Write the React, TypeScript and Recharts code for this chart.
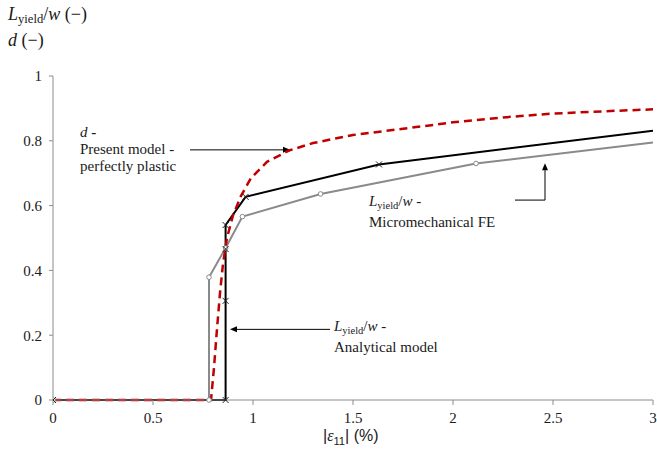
import React from "react";
import { LineChart, Line, XAxis, YAxis, ReferenceLine } from "recharts";

// strain |e11| (%) vs normalised yield length / damage
const analyticalX = [0, 0.863, 0.863, 0.863, 0.863, 0.963, 1.63, 3];
const analyticalY = [0, 0, 0.306, 0.466, 0.54, 0.627, 0.727, 0.831];

const feX = [0, 0.78, 0.78, 0.863, 0.947, 1.338, 2.115, 3];
const feY = [0, 0, 0.379, 0.469, 0.566, 0.636, 0.73, 0.795];

const dX = [0, 0.79, 0.805, 0.82, 0.835, 0.85, 0.87, 0.9, 0.94, 0.99, 1.07, 1.18, 1.3, 1.5, 1.75, 2.0, 2.25, 2.5, 2.75, 3];
const dY = [0, 0, 0.1, 0.22, 0.33, 0.42, 0.5, 0.57, 0.63, 0.685, 0.735, 0.77, 0.793, 0.818, 0.837, 0.857, 0.872, 0.884, 0.891, 0.897];

const xTicks = [0, 0.5, 1, 1.5, 2, 2.5, 3];
const yTicks = [0, 0.2, 0.4, 0.6, 0.8, 1];

const zip = (xs: number[], ys: number[]) => xs.map((x, i) => ({ x, y: ys[i] }));
const analytical = zip(analyticalX, analyticalY);
const fe = zip(feX, feY);
const damage = zip(dX, dY);

const C = {
  black: "#000000",
  grey: "#8a8a8a",
  red: "#c00000",
  axis: "#8c8c8c",
  text: "#1a1a1a",
};

const SERIF = "'Liberation Serif', 'Times New Roman', serif";
const TICK = { fontSize: 15, fill: C.text, fontFamily: SERIF };

function Cross(props: any) {
  const { cx, cy, payload } = props;
  if (cx == null || cy == null || payload.x >= 3) return null;
  const s = 3;
  return (
    <g stroke="#222" strokeWidth={1}>
      <line x1={cx - s} y1={cy - s} x2={cx + s} y2={cy + s} />
      <line x1={cx - s} y1={cy + s} x2={cx + s} y2={cy - s} />
    </g>
  );
}

function Ring(props: any) {
  const { cx, cy, payload } = props;
  if (cx == null || cy == null || payload.x >= 3) return null;
  return <circle cx={cx} cy={cy} r={2.3} fill="#fff" stroke={C.grey} strokeWidth={1} />;
}

function Arrow(props: any) {
  const { x1, y1, x2, y2, head } = props;
  if ([x1, y1, x2, y2].some((v) => v == null || Number.isNaN(v))) return null;
  const a = Math.atan2(y2 - y1, x2 - x1);
  const L = 7;
  const W = 3;
  const bx = x2 - L * Math.cos(a);
  const by = y2 - L * Math.sin(a);
  const px = -Math.sin(a) * W;
  const py = Math.cos(a) * W;
  return (
    <g>
      <line x1={x1} y1={y1} x2={head ? bx : x2} y2={head ? by : y2} stroke="#000" strokeWidth={1} />
      {head && <polygon points={`${x2},${y2} ${bx + px},${by + py} ${bx - px},${by - py}`} fill="#000" />}
    </g>
  );
}

const label: React.CSSProperties = {
  position: "absolute",
  fontFamily: SERIF,
  fontSize: 15,
  color: C.text,
  lineHeight: "17px",
  whiteSpace: "nowrap",
};

function Lw() {
  return (
    <>
      <i>L</i>
      <sub style={{ fontSize: "0.7em", verticalAlign: "-0.25em" }}>yield</sub>/<i>w</i>
    </>
  );
}

export default function App() {
  return (
    <div style={{ position: "absolute", left: 0, top: 0, width: 657, height: 466, background: "#fff" }}>
      <LineChart width={657} height={466} margin={{ top: 76, right: 4, left: 8, bottom: 36 }}>
        <XAxis
          type="number"
          dataKey="x"
          domain={[0, 3]}
          ticks={xTicks}
          allowDataOverflow
          tick={{ ...TICK, dy: 5 }}
          tickLine={{ stroke: C.axis }}
          tickSize={5}
          axisLine={{ stroke: C.axis }}
          height={30}
        />
        <YAxis
          type="number"
          dataKey="y"
          domain={[0, 1]}
          ticks={yTicks}
          tick={{ ...TICK, dx: -5 }}
          tickLine={{ stroke: C.axis }}
          tickSize={4}
          axisLine={{ stroke: C.axis }}
          width={45}
        />
        <ReferenceLine segment={[{ x: 0.685, y: 0.772 }, { x: 1.185, y: 0.772 }]} shape={(p: any) => <Arrow {...p} head />} />
        <ReferenceLine segment={[{ x: 1.385, y: 0.218 }, { x: 0.885, y: 0.218 }]} shape={(p: any) => <Arrow {...p} head />} />
        <ReferenceLine segment={[{ x: 2.31, y: 0.617 }, { x: 2.46, y: 0.617 }]} shape={(p: any) => <Arrow {...p} />} />
        <ReferenceLine segment={[{ x: 2.46, y: 0.617 }, { x: 2.46, y: 0.731 }]} shape={(p: any) => <Arrow {...p} head />} />
        <Line data={fe} dataKey="y" type="linear" stroke={C.grey} strokeWidth={2} dot={<Ring />} isAnimationActive={false} />
        <Line data={analytical} dataKey="y" type="linear" stroke={C.black} strokeWidth={2} dot={<Cross />} isAnimationActive={false} />
        <Line
          data={damage}
          dataKey="y"
          type="linear"
          stroke={C.red}
          strokeWidth={2.5}
          strokeDasharray="8 5"
          dot={false}
          isAnimationActive={false}
        />
      </LineChart>

      <div style={{ ...label, left: 8, top: 4, fontSize: 18, lineHeight: "21px" }}>
        <Lw /> (−)
        <br />
        <i>d</i> (−)
      </div>

      <div style={{ ...label, left: 80, top: 124 }}>
        <i>d</i> <b>-</b>
        <br />
        Present model -
        <br />
        perfectly plastic
      </div>

      <div style={{ ...label, left: 334, top: 318 }}>
        <Lw /> -
        <br />
        Analytical model
      </div>

      <div style={{ ...label, left: 369, top: 193 }}>
        <Lw /> -
        <br />
        Micromechanical FE
      </div>

      <div
        style={{
          ...label,
          left: 323,
          top: 427,
          fontFamily: "'Liberation Sans', Arial, sans-serif",
          fontSize: 16,
        }}
      >
        |<i style={{ fontFamily: SERIF }}>ε</i>
        <sub style={{ fontSize: "0.7em" }}>11</sub>| (%)
      </div>
    </div>
  );
}
